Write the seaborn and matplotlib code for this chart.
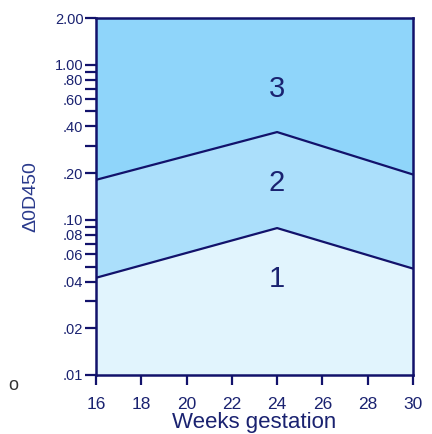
import matplotlib
matplotlib.use("Agg")
import matplotlib.pyplot as plt
import seaborn as sns
import numpy as np
import pandas as pd

# Data
weeks = [16, 24, 30]
zone1_upper = [0.0423, 0.0885, 0.0485]   # boundary between zone 1 and 2
zone2_upper = [0.181, 0.368, 0.196]      # boundary between zone 2 and 3
zone_labels = ["1", "2", "3"]
zone_label_y = [0.0416, 0.172, 0.70]
zone_label_x = 24
y_ticks = [2.00, 1.00, 0.90, 0.80, 0.70, 0.60, 0.50, 0.40, 0.30, 0.20,
           0.10, 0.09, 0.08, 0.07, 0.06, 0.05, 0.04, 0.03, 0.02, 0.01]
y_tick_labels = ["2.00", "1.00", "", ".80", "", ".60", "", ".40", "", ".20",
                 ".10", "", ".08", "", ".06", "", ".04", "", ".02", ".01"]
x_ticks = [16, 18, 20, 22, 24, 26, 28, 30]

NAVY = "#12126b"
TEXT = "#1a2270"
C1 = "#e1f4fd"
C2 = "#abdffb"
C3 = "#8fd5fa"

sns.set_theme(style="white")
plt.rcParams['font.family'] = ['Liberation Sans', 'DejaVu Sans']

fig = plt.figure(figsize=(4.32, 4.34), dpi=100)
ax = fig.add_axes([0.222, 0.136, 0.734, 0.8225])

ymin, ymax = 0.01, 2.00
ax.set_yscale("log")
ax.fill_between(weeks, [ymin]*3, zone1_upper, color=C1, lw=0)
ax.fill_between(weeks, zone1_upper, zone2_upper, color=C2, lw=0)
ax.fill_between(weeks, zone2_upper, [ymax]*3, color=C3, lw=0)

df = pd.DataFrame({"week": weeks * 2,
                   "od": zone1_upper + zone2_upper,
                   "line": ["a"] * 3 + ["b"] * 3})
sns.lineplot(data=df, x="week", y="od", units="line", estimator=None,
             color=NAVY, lw=1.6, ax=ax, legend=False)

for lab, y in zip(zone_labels, zone_label_y):
    ax.text(zone_label_x, y, lab, ha="center", va="center", fontsize=21, color=TEXT)

ax.set_xlim(16, 30)
ax.set_ylim(ymin, ymax)
ax.set_xticks(x_ticks)
ax.set_xticklabels([str(t) for t in x_ticks])
ax.yaxis.set_minor_locator(matplotlib.ticker.NullLocator())
ax.set_yticks(y_ticks)
ax.set_yticklabels(y_tick_labels)
ax.yaxis.set_minor_formatter(matplotlib.ticker.NullFormatter())

ax.tick_params(axis="x", direction="out", length=7, width=1.6, color=NAVY,
               labelsize=12.5, labelcolor=TEXT, pad=9, bottom=True)
ax.tick_params(axis="y", direction="out", length=8, width=1.6, color=NAVY,
               labelsize=10.5, labelcolor=TEXT, pad=1, left=True)
for s in ax.spines.values():
    s.set_color(NAVY)
    s.set_linewidth(1.8)

ax.set_xlabel("Weeks gestation", fontsize=16, color=TEXT, labelpad=0)
ax.set_ylabel("\u03940D450", fontsize=14, color="#2a3a8c", labelpad=11)
ax.grid(False)

fig.text(8/432, 1 - 385/434, "o", fontsize=13, color="#333333", va="center", ha="left")

fig.savefig("out.png", dpi=100)
